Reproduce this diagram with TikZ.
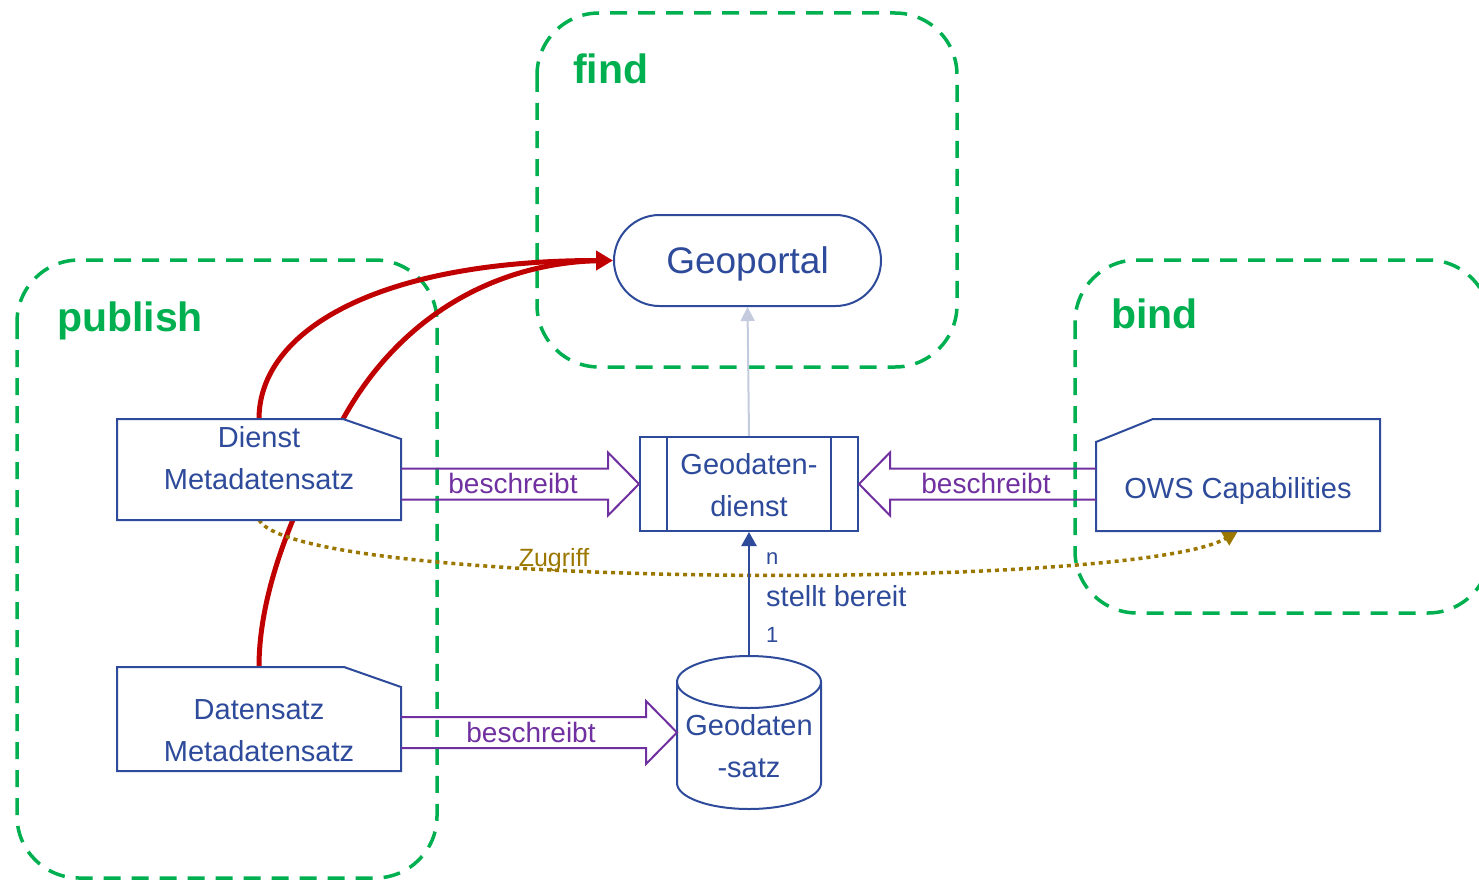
\documentclass[tikz,border=0pt]{standalone}
\usepackage{fontspec}
\setmainfont{Liberation Sans}
\usetikzlibrary{arrows.meta,calc}
\definecolor{zgreen}{HTML}{00B050}
\definecolor{nblue}{HTML}{2E4B9B}
\definecolor{apurple}{HTML}{7030A0}
\definecolor{cred}{HTML}{C00000}
\definecolor{olive2}{HTML}{9B7700}
\definecolor{lgrey}{HTML}{C3CBDD}
\pgfdeclarelayer{bg}\pgfdeclarelayer{conn}\pgfdeclarelayer{shp}
\pgfsetlayers{bg,conn,shp,main}
\newcommand\blockarr[3]{\draw[barrow] let \p1=(#2), \p2=(#1) in
  (\x2,\y1+15.5pt) -- ({\x1-(#3)},\y1+15.5pt) -- ({\x1-(#3)},\y1+31.5pt) -- (\x1,\y1)
  -- ({\x1-(#3)},\y1-31.5pt) -- ({\x1-(#3)},\y1-15.5pt) -- (\x2,\y1-15.5pt);}
\begin{document}
\begin{tikzpicture}[x=1pt,y=-1pt,
  zone/.style={draw=zgreen, line width=3.5pt, dash pattern=on 17pt off 11pt, rounded corners=62pt},
  zlabel/.style={text=zgreen, font=\fontsize{41}{48}\selectfont\bfseries, anchor=base west, inner sep=0pt},
  shapebox/.style={draw=none, inner sep=0pt, outer sep=0pt},
  txt/.style={text=nblue, font=\fontsize{29}{42}\selectfont, align=center, inner sep=0pt},
  outl/.style={draw=nblue, line width=2pt, fill=white},
  barrow/.style={draw=apurple, line width=2pt},
  blab/.style={text=apurple, font=\fontsize{28}{34}\selectfont, inner sep=0pt, anchor=base},
  redc/.style={draw=cred, line width=5pt},
  dotc/.style={draw=olive2, line width=3.5pt, dash pattern=on 4pt off 4pt}
]
\useasboundingbox (0,0) rectangle (1479,880);

% zones
\begin{pgfonlayer}{bg}
\draw[zone] (537,13) rectangle (957,367);
\draw[zone] (17,260) rectangle (437,878);
\draw[zone] (1075,260) rectangle (1490,613);
\end{pgfonlayer}
\node[zlabel] (lfind) at (573,84) {find};
\node[zlabel] (lpub) at (57,331) {publish};
\node[zlabel] (lbind) at (1111,328) {bind};

% node frames
\node[shapebox, minimum width=284pt, minimum height=101pt] (dm) at (259,469.5) {};
\node[shapebox, minimum width=284pt, minimum height=104pt] (dsm) at (259,719) {};
\node[shapebox, minimum width=284pt, minimum height=112pt] (ows) at (1238,475) {};
\node[shapebox, minimum width=144pt, minimum height=153pt] (gs) at (749,732.5) {};
\node[draw=nblue, line width=2pt, fill=white, minimum width=218pt, minimum height=94pt, inner sep=0pt] (gd) at (749,484) {};
\node[draw=nblue, line width=2pt, fill=white, minimum width=267pt, minimum height=91pt,
      rounded corners=45.5pt, text=nblue, font=\fontsize{37}{44}\selectfont, text depth=0pt] (gp) at (747.5,260.5) {Geoportal};
\coordinate (dmcut) at ($(dm.north east)+(-58,0)$);

\draw[nblue, line width=2pt] ($(gd.north west)+(28,0)$) -- ($(gd.south west)+(28,0)$);
\draw[nblue, line width=2pt] ($(gd.north east)+(-28,0)$) -- ($(gd.south east)+(-28,0)$);

\begin{pgfonlayer}{shp}
\draw[outl] (dm.south west) -- (dm.north west) -- (dmcut) -- ($(dm.north east)+(0,20)$) -- (dm.south east) -- cycle;
\draw[outl] (dsm.south west) -- (dsm.north west) -- ($(dsm.north east)+(-57,0)$) -- ($(dsm.north east)+(0,20)$) -- (dsm.south east) -- cycle;
\draw[outl] (ows.south west) -- ($(ows.north west)+(0,23)$) -- ($(ows.north west)+(57,0)$) -- (ows.north east) -- (ows.south east) -- cycle;
\draw[outl] ($(gs.north west)+(0,26)$) -- ($(gs.south west)+(0,-26)$)
   arc[start angle=180, end angle=360, x radius=72pt, y radius=26pt]
   -- ($(gs.north east)+(0,26)$)
   arc[start angle=0, end angle=180, x radius=72pt, y radius=26pt] -- cycle;
\draw[nblue, line width=2pt] ($(gs.north west)+(0,26)$) arc[start angle=180, end angle=360, x radius=72pt, y radius=26pt];
\end{pgfonlayer}

% texts
\node[txt] (dmt) at (259,458.5) {Dienst\\Metadatensatz};
\node[txt] (dsmt) at (259,730.5) {Datensatz\\Metadatensatz};
\node[txt, anchor=base] (owst) at (1238,498) {OWS Capabilities};
\node[txt] (gdt) at (749,485.5) {Geodaten-\\dienst};
\node[txt] (gst) at (749,746.5) {Geodaten\\-satz};

% connectors
\begin{pgfonlayer}{conn}
\draw[redc, shorten >=10pt] (dsm.north) .. controls ($(dsm.north)+(0,-77)$) and ($(dmcut)+(-48,84)$) .. (dmcut)
   .. controls ($(dmcut)+(58,-105)$) and ($(gp.west)+(-114,1)$) .. (gp.west);
\draw[redc, -{Triangle[length=17pt,width=19pt]}] (dm.north) .. controls +(0,-89) and +(-234,0) .. (gp.west);
\draw[dotc, -{Triangle[length=15pt,width=15pt]}] (dm.south) .. controls +(41,70) and +(-100,60) .. (ows.south);
\draw[lgrey, line width=2pt, -{Triangle[length=14pt,width=14pt]}] (gd.north) -- (gp.south);
\draw[nblue, line width=2.5pt, -{Triangle[length=14pt,width=15pt]}] (gs.north) -- (gd.south);
\end{pgfonlayer}

\blockarr{dm.east}{gd.west}{31pt}
\blockarr{ows.west}{gd.east}{-31pt}
\blockarr{dsm.east}{gs.west}{31pt}

\node[blab] (b1) at (513,493) {beschreibt};
\node[blab] (b2) at (986,493) {beschreibt};
\node[blab] (b3) at (531,742) {beschreibt};
\node[text=olive2, font=\fontsize{25}{30}\selectfont, anchor=base, inner sep=0pt] (zg) at (554,566) {Zugriff};
\node[text=nblue, font=\fontsize{22}{26}\selectfont, anchor=base west, inner sep=0pt] (ln) at (766,564) {n};
\node[text=nblue, font=\fontsize{29}{34}\selectfont, anchor=base west, inner sep=0pt] (lsb) at (766,606) {stellt bereit};
\node[text=nblue, font=\fontsize{22}{26}\selectfont, anchor=base west, inner sep=0pt] (l1) at (766,642) {1};
\end{tikzpicture}
\end{document}
